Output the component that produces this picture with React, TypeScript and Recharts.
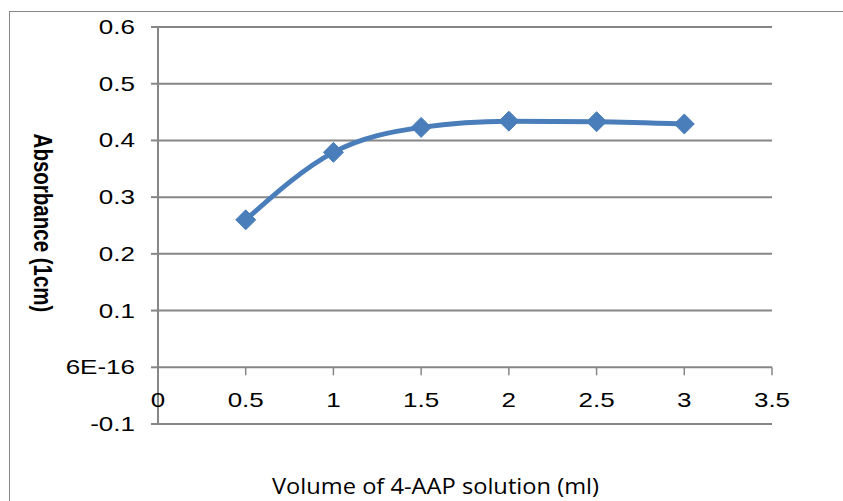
import { LineChart, Line, XAxis, YAxis, CartesianGrid, Label } from "recharts";

const volumes = [0.5, 1, 1.5, 2, 2.5, 3];
const absorbance = [0.26, 0.379, 0.423, 0.434, 0.433, 0.429];
const xTicks = [0, 0.5, 1, 1.5, 2, 2.5, 3, 3.5];
const yTicks = [-0.1, 0, 0.1, 0.2, 0.3, 0.4, 0.5, 0.6];

const data = volumes.map((v, i) => ({ volume: v, abs: absorbance[i] }));

const W = 843;
const H = 501;
const TOP = 27;
const PLOT_H = 397;
const Y_MIN = -0.1;
const Y_MAX = 0.6;
const GRID = "#868686";
const BLUE = "#4a7ebb";
const FONT = "'Liberation Sans', Arial, sans-serif";
// the original picture is stretched sideways a little
const STRETCH = 1.3;

const Diamond = (props: any) => {
    const { cx, cy } = props;
    if (cx == null || cy == null) return null;
    const r = 10;
    return (
        <polygon
            points={`${cx},${cy - r} ${cx + r},${cy} ${cx},${cy + r} ${cx - r},${cy}`}
            fill={BLUE}
            stroke={BLUE}
        />
    );
};

const formatY = (v: number) => (Math.abs(v) < 1e-9 ? "6E-16" : String(Math.round(v * 10) / 10));

// x axis crosses at y = 0, so ticks are moved up from the bottom edge
const XTick = (props: any) => {
    const { x, payload } = props;
    const zeroY = TOP + (PLOT_H * (Y_MAX - 0)) / (Y_MAX - Y_MIN);
    return (
        <g>
            {payload.value !== 0 && (
                <line x1={x} y1={zeroY} x2={x} y2={zeroY + 8} stroke={GRID} strokeWidth={1.5} />
            )}
            <text
                transform={`translate(${x},${zeroY + 40}) scale(${STRETCH},1)`}
                textAnchor="middle"
                fontFamily={FONT}
                fontSize={20}
                fill="#000"
            >
                {payload.value}
            </text>
        </g>
    );
};

const YTick = (props: any) => {
    const { x, y, payload } = props;
    return (
        <text
            transform={`translate(${x},${y + 7}) scale(${STRETCH},1)`}
            textAnchor="end"
            fontFamily={FONT}
            fontSize={20}
            fill="#000"
        >
            {formatY(payload.value)}
        </text>
    );
};

const YTitle = () => (
    <text
        transform={`translate(34,223) scale(${STRETCH},1) rotate(90)`}
        textAnchor="middle"
        fontFamily={FONT}
        fontWeight="bold"
        fontSize={20.5}
        fill="#000"
    >
        Absorbance (1cm)
    </text>
);

const XTitle = () => (
    <text
        x={435.5}
        y={494}
        textAnchor="middle"
        fontFamily="'Open Sans', sans-serif"
        fontSize={21}
        textLength={327}
        lengthAdjust="spacingAndGlyphs"
        fill="#000"
    >
        Volume of 4-AAP solution (ml)
    </text>
);

export default function App() {
    return (
        <div
            style={{
                position: "absolute",
                left: 0,
                top: 0,
                width: W,
                height: H,
                overflow: "hidden",
                background: "#fff",
            }}
        >
            <div
                style={{
                    position: "absolute",
                    left: 9,
                    top: 11,
                    width: 1000,
                    height: 700,
                    border: `1px solid ${GRID}`,
                }}
            />
            <LineChart
                width={W}
                height={H}
                data={data}
                margin={{ top: TOP, right: 71, bottom: 0, left: 0 }}
                style={{ position: "absolute", left: 0, top: 0 }}
            >
                <CartesianGrid horizontal vertical={false} stroke={GRID} strokeWidth={2} />
                <XAxis
                    dataKey="volume"
                    type="number"
                    domain={[0, 3.5]}
                    ticks={xTicks}
                    height={77}
                    axisLine={false}
                    tickLine={false}
                    tick={<XTick />}
                    interval={0}
                >
                    <Label content={<XTitle />} />
                </XAxis>
                <YAxis
                    type="number"
                    domain={[Y_MIN, Y_MAX]}
                    ticks={yTicks}
                    width={158}
                    interval={0}
                    axisLine={{ stroke: GRID, strokeWidth: 2 }}
                    tickLine={{ stroke: GRID, strokeWidth: 2 }}
                    tickSize={7}
                    tickMargin={16}
                    tick={<YTick />}
                >
                    <Label content={<YTitle />} />
                </YAxis>
                <Line
                    type="monotone"
                    dataKey="abs"
                    stroke={BLUE}
                    strokeWidth={5}
                    dot={<Diamond />}
                    activeDot={false}
                    isAnimationActive={false}
                />
            </LineChart>
        </div>
    );
}
